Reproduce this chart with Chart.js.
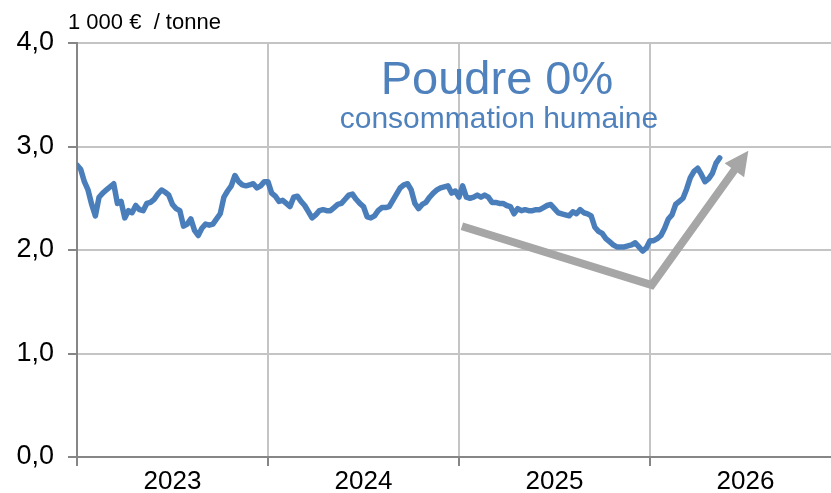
<!DOCTYPE html>
<html>
<head>
<meta charset="utf-8">
<script src="https://cdn.jsdelivr.net/npm/chart.js@4"></script>
<style>
  body { margin:0; background:#fff; }
  #wrap { position:relative; width:831px; height:493px; font-family:"Liberation Sans", Arial, sans-serif; }
  .lbl { position:absolute; line-height:1; white-space:pre; }
  #unit { left:68px; top:11px; font-size:22px; color:#000; }
  #title { left:297px; width:400px; top:54px; font-size:47px; color:#4f81bd; text-align:center; }
  #sub { left:299px; width:400px; top:103px; font-size:30px; color:#4f81bd; text-align:center; }
</style>
</head>
<body>
<div id="wrap">
  <canvas id="chart" width="831" height="493"></canvas>
  <div class="lbl" id="unit">1 000 €  / tonne</div>
  <div class="lbl" id="title">Poudre 0%</div>
  <div class="lbl" id="sub">consommation humaine</div>
</div>
<script>
// weekly price, 1 000 € / tonne, from first week of 2023
const years = ['2023', '2024', '2025', '2026'];
const weeksPerYear = 52;
const prices = [
  2.82, 2.78, 2.66, 2.58, 2.44, 2.33, 2.51, 2.55, 2.58, 2.61,
  2.64, 2.45, 2.47, 2.31, 2.38, 2.36, 2.43, 2.39, 2.38, 2.45,
  2.46, 2.49, 2.54, 2.58, 2.56, 2.53, 2.44, 2.40, 2.38, 2.23,
  2.25, 2.30, 2.19, 2.14, 2.21, 2.25, 2.24, 2.25, 2.30, 2.35,
  2.51, 2.57, 2.62, 2.72, 2.66, 2.63, 2.62, 2.63, 2.64, 2.60,
  2.62, 2.66, 2.66, 2.55, 2.52, 2.47, 2.48, 2.45, 2.42, 2.51,
  2.52, 2.47, 2.43, 2.37, 2.31, 2.34, 2.38, 2.39, 2.38, 2.38,
  2.41, 2.44, 2.45, 2.49, 2.53, 2.54, 2.49, 2.45, 2.42, 2.32,
  2.31, 2.33, 2.38, 2.41, 2.41, 2.42, 2.48, 2.54, 2.60, 2.63,
  2.64, 2.58, 2.45, 2.40, 2.44, 2.46, 2.51, 2.55, 2.58, 2.60,
  2.61, 2.62, 2.55, 2.57, 2.51, 2.62, 2.51, 2.50, 2.51, 2.53,
  2.51, 2.53, 2.51, 2.46, 2.46, 2.45, 2.45, 2.43, 2.42, 2.35,
  2.40, 2.38, 2.39, 2.38, 2.38, 2.39, 2.39, 2.41, 2.43, 2.44,
  2.40, 2.36, 2.35, 2.34, 2.33, 2.37, 2.35, 2.39, 2.36, 2.35,
  2.33, 2.22, 2.18, 2.16, 2.11, 2.08, 2.05, 2.03, 2.03, 2.03,
  2.04, 2.05, 2.07, 2.03, 1.99, 2.02, 2.09, 2.09, 2.11, 2.14,
  2.21, 2.30, 2.34, 2.44, 2.47, 2.50, 2.59, 2.70, 2.76, 2.79,
  2.73, 2.66, 2.69, 2.74, 2.84, 2.89
];
// grey trend arrow (week, value): start, corner, tip
const arrowWeeks = [104.8, 156.5, 182.8];
const arrowValues = [2.23, 1.66, 2.96];

const GRID = '#c4c4c4', AXIS = '#868686', BLUE = '#4a7ebb';

const arrowPlugin = {
  id: 'arrow',
  afterDatasetsDraw(chart){
    const {ctx, scales:{x, y}} = chart;
    const p = arrowWeeks.map((w,i)=> ({x: x.getPixelForValue(w), y: y.getPixelForValue(arrowValues[i])}));
    const a = p[1], b = p[2];
    const len = Math.hypot(b.x-a.x, b.y-a.y);
    const ux = (b.x-a.x)/len, uy = (b.y-a.y)/len;
    const head = 24, half = 12;
    const bx = b.x - ux*head, by = b.y - uy*head;
    ctx.save();
    ctx.strokeStyle = '#a6a6a6';
    ctx.fillStyle = '#a6a6a6';
    ctx.lineWidth = 8;
    ctx.lineJoin = 'miter';
    ctx.beginPath();
    ctx.moveTo(p[0].x, p[0].y);
    ctx.lineTo(a.x, a.y);
    ctx.lineTo(bx + ux*2, by + uy*2);
    ctx.stroke();
    ctx.beginPath();
    ctx.moveTo(b.x, b.y);
    ctx.lineTo(bx - uy*half, by + ux*half);
    ctx.lineTo(bx + uy*half, by - ux*half);
    ctx.closePath();
    ctx.fill();
    ctx.restore();
  }
};

new Chart(document.getElementById('chart'), {
  type: 'line',
  data: {
    datasets: [{
      data: prices.map((v,i)=> ({x:i, y:v})),
      borderColor: BLUE,
      borderWidth: 5.5,
      pointRadius: 0,
      tension: 0,
      borderJoinStyle: 'round',
      borderCapStyle: 'round',
      fill: false
    }]
  },
  options: {
    responsive: false,
    animation: false,
    devicePixelRatio: 1,
    layout: { padding: { top: 43, right: 0, left: 0, bottom: 0 } },
    plugins: { legend: { display: false }, tooltip: { enabled: false } },
    scales: {
      x: {
        type: 'linear',
        min: 0,
        max: 205.3,
        afterBuildTicks: (s)=> {
          const t = [];
          for (let v = 0; v <= 182; v += weeksPerYear/2) t.push({value: v});
          s.ticks = t;
        },
        afterFit: (s)=> { s.height = 36; },
        ticks: {
          autoSkip: false,
          maxRotation: 0,
          padding: 0,
          color: '#000',
          font: { family: '"Liberation Sans", Arial, sans-serif', size: 26 },
          callback: (v)=> (v % weeksPerYear === weeksPerYear/2) ? years[Math.floor(v/weeksPerYear)] : ''
        },
        grid: {
          lineWidth: 2,
          color: (c)=> (c.tick && c.tick.value % weeksPerYear === 0 && c.tick.value > 0) ? GRID : 'rgba(0,0,0,0)',
          tickColor: (c)=> (c.tick && c.tick.value % weeksPerYear === 0) ? AXIS : 'rgba(0,0,0,0)',
          tickLength: 9
        },
        border: { color: AXIS, width: 2 }
      },
      y: {
        min: 0,
        max: 4,
        afterFit: (s)=> { s.width = 77; },
        ticks: {
          stepSize: 1,
          padding: 14,
          color: '#000',
          font: { family: '"Liberation Sans", Arial, sans-serif', size: 27 },
          callback: (v)=> v.toFixed(1).replace('.', ',')
        },
        grid: {
          lineWidth: 2,
          color: (c)=> (c.tick && c.tick.value > 0) ? GRID : 'rgba(0,0,0,0)',
          tickColor: AXIS,
          tickLength: 9
        },
        border: { color: AXIS, width: 2 }
      }
    }
  },
  plugins: [arrowPlugin]
});
</script>
</body>
</html>
